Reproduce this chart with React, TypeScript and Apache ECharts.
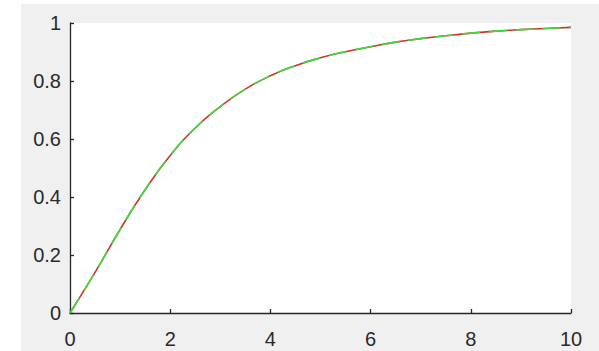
import React, { useEffect, useRef } from "react";
import * as echarts from "echarts";

const xValues = [0, 0.5, 1, 1.5, 2, 2.5, 3, 3.5, 4, 4.5, 5, 5.5, 6, 6.5, 7, 7.5, 8, 8.5, 9, 9.5, 10];
const yValues = [0, 0.14, 0.288, 0.425, 0.543, 0.638, 0.712, 0.772, 0.818, 0.853, 0.88, 0.901, 0.918, 0.934, 0.946, 0.956, 0.965, 0.972, 0.977, 0.981, 0.985];
const xTicks = [0, 2, 4, 6, 8, 10];
const yTicks = [0, 0.2, 0.4, 0.6, 0.8, 1];

export default function App() {
  const ref = useRef<HTMLDivElement>(null);
  useEffect(() => {
    document.body.style.margin = "0";
    const chart = echarts.init(ref.current!, null, { renderer: "svg" });
    const data = xValues.map((x, i) => [x, yValues[i]]);
    const axisCommon = {
      axisLine: { show: true, lineStyle: { color: "#262626", width: 1.3 } },
      axisTick: { show: true, inside: true, length: 4, lineStyle: { color: "#262626", width: 1.3 } },
      splitLine: { show: false },
      axisLabel: { color: "#2a2a2a", fontSize: 20, fontFamily: "Liberation Sans, Arial, sans-serif" },
    };
    chart.setOption({
      animation: false,
      backgroundColor: "#f0f0f0",
      graphic: [
        { type: "rect", shape: { x: 0, y: 0, width: 599, height: 4 }, style: { fill: "#ffffff" }, silent: true },
        { type: "rect", shape: { x: 0, y: 0, width: 21, height: 351 }, style: { fill: "#ffffff" }, silent: true },
      ],
      grid: { left: 70, right: 28, top: 23, bottom: 38, show: true, backgroundColor: "#ffffff", borderWidth: 0 },
      xAxis: {
        type: "value", min: 0, max: 10, interval: 2,
        ...axisCommon,
        axisLabel: { ...axisCommon.axisLabel, margin: 16, customValues: xTicks },
      },
      yAxis: {
        type: "value", min: 0, max: 1, interval: 0.2,
        ...axisCommon,
        axisLabel: { ...axisCommon.axisLabel, margin: 9, customValues: yTicks },
      },
      series: [
        {
          type: "line", data, showSymbol: false, smooth: 0.5, z: 2,
          lineStyle: { color: "#cc3333", width: 1.6 },
        },
        {
          type: "line", data, showSymbol: false, smooth: 0.5, z: 3,
          lineStyle: { color: "#3ddc3d", width: 1.6, type: [18, 9] },
        },
      ],
    });
    return () => chart.dispose();
  }, []);
  return <div ref={ref} style={{ position: "absolute", left: 0, top: 0, width: 599, height: 351 }} />;
}
